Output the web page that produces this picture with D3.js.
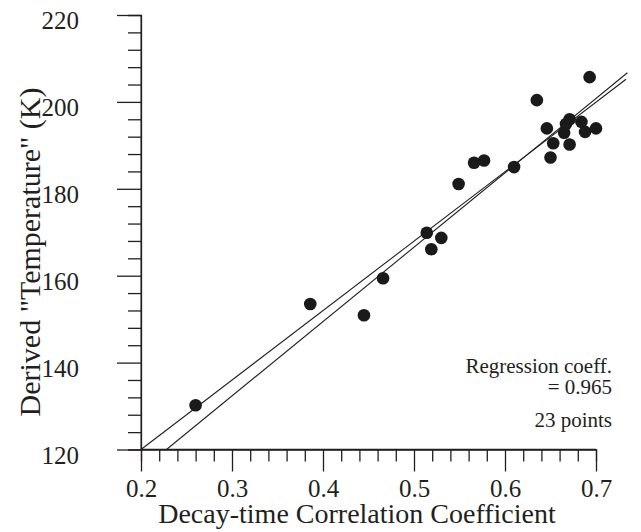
<!DOCTYPE html>
<html>
<head>
<meta charset="utf-8">
<script src="https://cdn.jsdelivr.net/npm/d3@7"></script>
<style>
  body { margin: 0; background: #fff; }
  text { font-family: "Liberation Serif", "Times New Roman", serif; fill: #231f20; }
</style>
</head>
<body>
<svg id="chart" width="641" height="532"></svg>
<script>
// measured points: correlation coefficient vs derived temperature (K)
const coeffs = [0.260, 0.386, 0.445, 0.466, 0.514, 0.519, 0.530, 0.549, 0.566, 0.577, 0.610, 0.635,
    0.646, 0.650, 0.653, 0.671, 0.665, 0.688, 0.700, 0.693, 0.671, 0.684, 0.667];
const temps = [130.2, 153.5, 150.9, 159.4, 169.9, 166.1, 168.7, 181.1, 186.0, 186.5, 185.0, 200.4,
    193.9, 187.2, 190.5, 190.2, 192.9, 193.1, 193.9, 205.7, 196.0, 195.4, 194.9];

// the two fitted lines, as end points [x, y]
const fitA = [[0.2, 120], [0.733, 205.2]];
const fitB = [[0.228, 120], [0.7345, 206.7]];

const xTicks = [0.2, 0.3, 0.4, 0.5, 0.6, 0.7];
const yTicks = [120, 140, 160, 180, 200, 220];
const notes = ["Regression coeff.", "= 0.965", "23 points"];

const svg = d3.select("#chart");

const x = d3.scaleLinear().domain([0.2, 0.7]).range([141, 596]);
const y = d3.scaleLinear().domain([120, 220]).range([449.5, 15]);

// minor ticks
const xMinor = d3.range(0.2, 0.7001, 0.02).filter(v => xTicks.every(t => Math.abs(t - v) > 1e-6));
const yMinor = d3.range(120, 220.01, 4).filter(v => yTicks.indexOf(v) == -1);

const yAxis = svg.append("g").attr("transform", "translate(141,0)");
yAxis.call(d3.axisLeft(y).tickValues(yTicks).tickSize(24).tickPadding(38).tickFormat(d3.format("d")));
yAxis.append("g").call(d3.axisLeft(y).tickValues(yMinor).tickSize(13).tickFormat(""));

const xAxis = svg.append("g").attr("transform", "translate(0,449.5)");
xAxis.call(d3.axisBottom(x).tickValues(xTicks).tickSize(22).tickPadding(8).tickFormat(d3.format(".1f")));
xAxis.append("g").call(d3.axisBottom(x).tickValues(xMinor).tickSize(12).tickFormat(""));

svg.selectAll(".domain").attr("stroke", "#231f20").attr("stroke-width", 1.3);
svg.selectAll(".tick line").attr("stroke", "#231f20").attr("stroke-width", 1.3);
// no outer ticks on the domain paths
yAxis.select(".domain").attr("d", "M0,15V449.5").attr("stroke", "#555");
xAxis.select(".domain").attr("d", "M141,0H596");

yAxis.selectAll(".tick text")
    .style("font-size", "25px")
    .attr("dy", "0.55em")
    .attr("fill", "#231f20");
xAxis.selectAll(".tick text")
    .style("font-size", "25px")
    .attr("fill", "#231f20");

// fitted lines
const line = d3.line().x(d => x(d[0])).y(d => y(d[1]));
[fitA, fitB].forEach(f => {
    svg.append("path")
        .attr("d", line(f))
        .attr("fill", "none")
        .attr("stroke", "#231f20")
        .attr("stroke-width", 1.1);
});

// points
svg.append("g").selectAll("circle")
    .data(coeffs)
    .enter().append("circle")
    .attr("cx", d => x(d))
    .attr("cy", (d, i) => y(temps[i]))
    .attr("r", 6.3)
    .attr("fill", "#1a1a1a");

// notes
const noteY = [373, 394, 427];
svg.append("g").selectAll("text")
    .data(notes)
    .enter().append("text")
    .attr("x", 612)
    .attr("y", (d, i) => noteY[i])
    .attr("text-anchor", "end")
    .style("font-size", "21px")
    .text(d => d);

// axis titles
svg.append("text")
    .attr("x", 357).attr("y", 523)
    .attr("text-anchor", "middle")
    .style("font-size", "28px")
    .text("Decay-time Correlation Coefficient");

svg.append("text")
    .attr("transform", "translate(40,252) rotate(-90)")
    .attr("text-anchor", "middle")
    .style("font-size", "30px")
    .text("Derived \"Temperature\" (K)");
</script>
</body>
</html>
